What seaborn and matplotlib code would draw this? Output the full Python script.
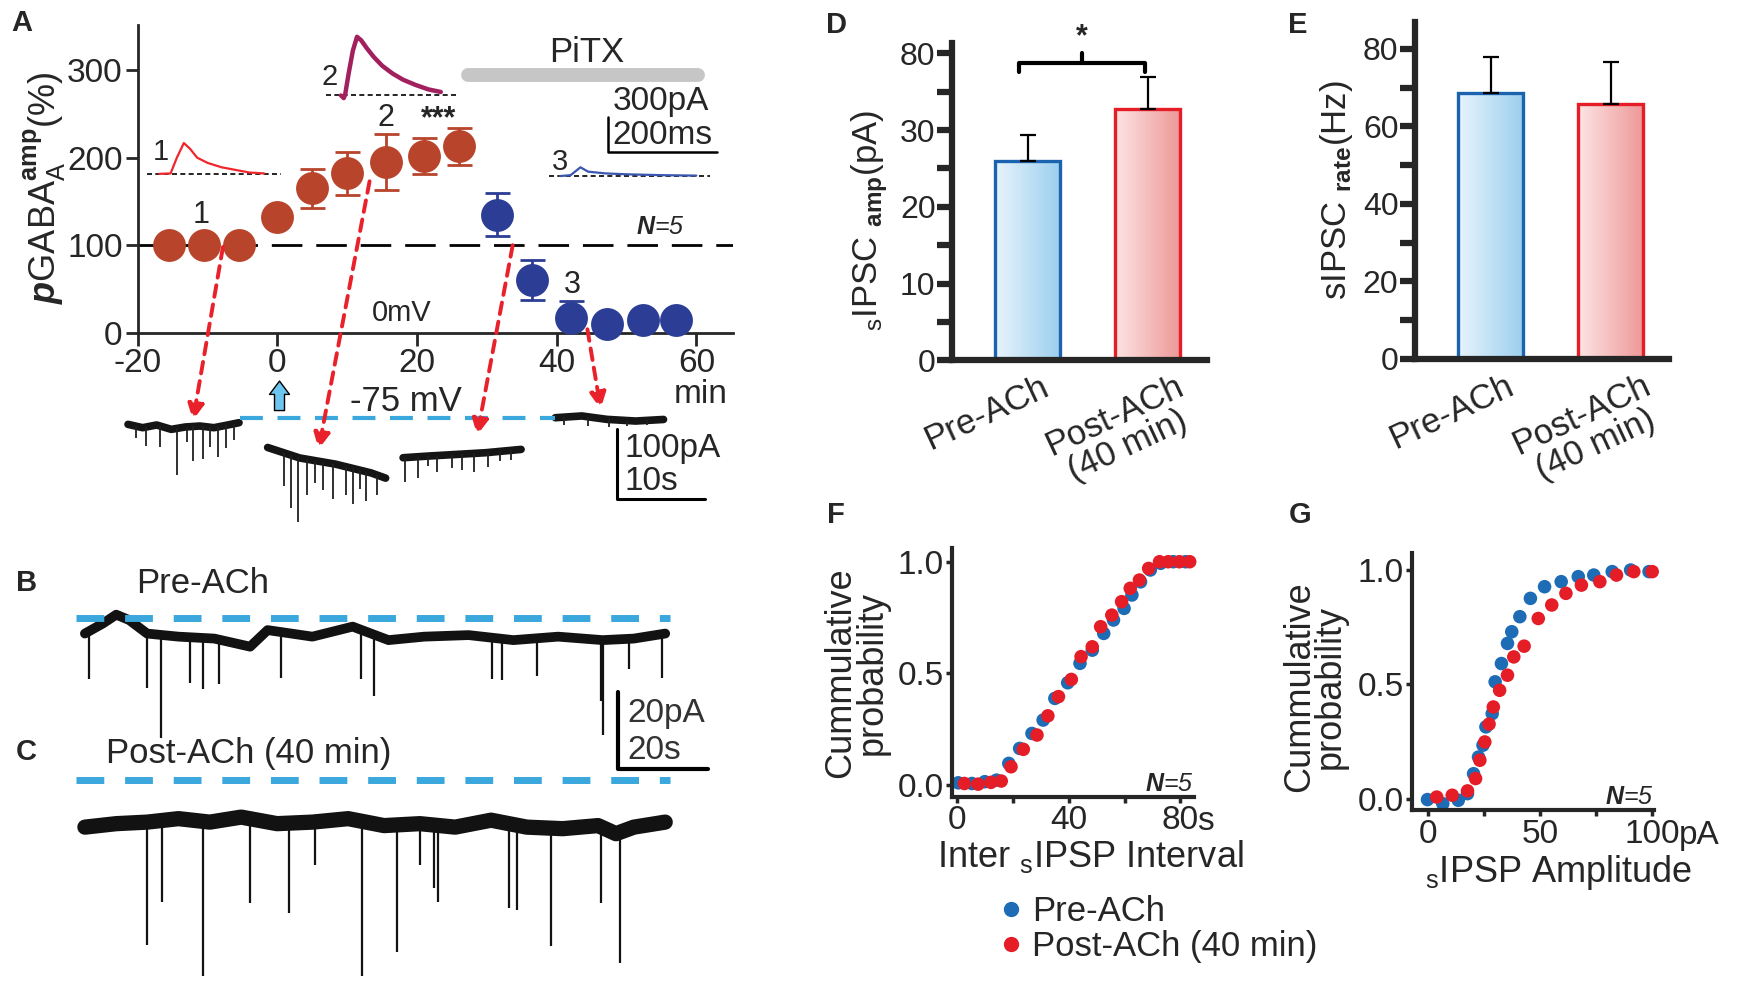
import numpy as np
import pandas as pd
import matplotlib
matplotlib.use('Agg')
import matplotlib.pyplot as plt
import matplotlib.transforms as mtransforms
from matplotlib.colors import LinearSegmentedColormap
from matplotlib.lines import Line2D
import seaborn as sns

# ---------------- data ----------------
# panel A: normalised pGABA_A amplitude (%) over time (min)
ach_time = [-15.5, -10.5, -5.5, 0, 5, 10, 15.5, 21, 26]
ach_amp = [100, 100, 100, 132, 165, 182, 195, 202, 213]
ach_err = [0, 0, 0, 0, 22, 25, 32, 21, 21]
pitx_time = [31.4, 36.5, 42.1, 47.2, 52.3, 57.1]
pitx_amp = [135, 60, 17, 10, 15, 15]
pitx_err = [25, 23, 19, 0, 0, 0]

# inset evoked currents in A (drawn in A's data units)
trace1_t = [-16.9, -15.3, -14.4, -13.4, -12.5, -11.5, -10, -8, -6, -4, -1.9]
trace1_v = [181.5, 182, 200, 216.7, 210, 200, 194, 189, 186, 183, 182]
trace2_t = [9.1, 9.5, 9.7, 10.2, 10.8, 11.4, 12.0, 12.8, 13.8, 15.0, 16.5, 18.0, 19.8, 21.6, 23.4]
trace2_v = [271, 268, 272, 296, 322, 338, 334, 325, 315, 305, 296, 289, 283, 278, 275]
trace3_t = [40.5, 42, 43.4, 44.5, 47, 50, 55, 60]
trace3_v = [179, 180, 189, 184, 182, 181, 180, 179.5]

# holding current sweeps at -75 mV under the axis of A
seg1_t = [-21.4, -19.3, -17.3, -15.2, -13.2, -11.1, -9.1, -7.1, -5.5]
seg1_v = [-104.6, -108.4, -105.3, -110.3, -107.6, -106.5, -108.4, -105.3, -102.7]
seg1_spk_t = [-20.2, -18.8, -16.8, -14.4, -13.0, -12.1, -10.6, -9.6, -8.55, -7.3, -6.2]
seg1_spk_v = [-120, -129, -131, -162, -125, -147, -144, -131, -142, -132, -122]
seg2_t = [-1.4, 3.2, 8.3, 13.4, 15.5]
seg2_v = [-131, -143, -150, -160, -166]
seg2_spk_t = [1.0, 2.0, 2.9, 4.3, 5.4, 6.5, 8.0, 9.8, 10.8, 11.8, 12.7, 14.2]
seg2_spk_v = [-175, -200, -216, -185, -172, -180, -190, -185, -195, -178, -192, -185]
seg3_t = [18.0, 21.6, 25.7, 29.8, 34.9]
seg3_v = [-142.7, -140.8, -138.9, -137, -133.2]
seg3_spk_t = [18.3, 20.1, 21.5, 22.9, 25.0, 26.4, 28.1, 30.1, 31.9, 33.5]
seg3_spk_v = [-170, -166, -152, -158.5, -155, -157, -158.5, -153, -147, -145]
seg4_t = [39.8, 43.6, 47.2, 51.3, 55.3]
seg4_v = [-97, -95, -98.9, -100.8, -99]
seg4_spk_t = [41, 44.5, 47.5, 50, 53]
seg4_spk_v = [-105, -106, -108, -106, -105]

# panels B / C: spontaneous IPSC traces (s, pA)
pre_t = [0.1, 4.1, 7.1, 10, 14, 21, 29, 37, 40.9, 50.9, 59.9, 67.9, 75.9, 85.8, 95.8, 105.8, 115.7, 122.7, 129.7]
pre_v = [1.1, 3.7, 6.0, 4.6, 1.1, 0.3, -0.2, -2.3, 2.0, 0.3, 2.9, -0.6, 0.3, 0.7, -0.6, 0.3, -0.6, -0.2, 1.1]
pre_spk_t = [1, 14, 17, 23.5, 26.4, 30, 44, 61.7, 64.7, 91, 93.3, 101, 115.3, 115.8, 121.7, 129]
pre_spk_v = [-10.7, -13, -26, -11.6, -13.3, -11.9, -10.4, -10.7, -15, -10.7, -11, -9.9, -16.5, -25.2, -8.1, -10.4]
post_t = [0.1, 7.1, 14, 21, 28, 35, 43, 50.9, 58.9, 66.9, 74.9, 82.8, 90.8, 98.8, 106.8, 114.7, 118.7, 122.7, 129.7]
post_v = [0.2, 1.1, 1.5, 2.4, 1.5, 2.8, 1.1, 1.5, 2.4, 0.6, 1.1, 0.2, 2.0, 0.2, -0.2, 0.6, -1.5, 0.2, 1.5]
post_spk_t = [14, 17.3, 26.4, 37, 45.7, 51.4, 62, 69.9, 75, 78, 79, 94.8, 96.5, 104.2, 115.3, 119.5]
post_spk_v = [-30.4, -19.1, -38.3, -19.4, -22, -9.6, -38.3, -32.2, -9.6, -15.7, -19.1, -20.9, -21.2, -30.7, -19.4, -35.1]

# panels D / E: bar charts
groups = ['Pre-ACh', 'Post-ACh\n(40 min)']
amp_mean = [26.0, 32.8]
amp_sem = [3.4, 4.1]
rate_mean = [68.5, 65.8]
rate_sem = [9.3, 10.9]

# panels F / G: cumulative distributions
ivl_pre_x = [0.4, 5.3, 9.9, 14.1, 18.5, 22.4, 26.8, 30.8, 35, 39.6, 44, 48.4, 52.5, 56, 59.8, 62.6, 65.7, 69.2, 72.9, 77.4, 81.8]
ivl_pre_y = [0.01, 0.007, 0.015, 0.022, 0.097, 0.164, 0.231, 0.291, 0.388, 0.458, 0.545, 0.604, 0.679, 0.739, 0.791, 0.851, 0.91, 0.963, 0.993, 1.0, 1.0]
ivl_post_x = [2.6, 7.5, 12.1, 15.8, 19.3, 23.7, 28.6, 32.5, 36.3, 40.9, 44.4, 48.4, 51.4, 55.4, 58.9, 62, 65.3, 68.6, 72.5, 75.6, 79.6, 83.3]
ivl_post_y = [0.007, 0.004, 0.012, 0.018, 0.082, 0.16, 0.224, 0.31, 0.396, 0.473, 0.575, 0.619, 0.709, 0.761, 0.821, 0.881, 0.918, 0.97, 1.0, 1.0, 1.0, 1.0]
amp_pre_x = [0, 6.8, 13.7, 17.8, 20.5, 22.7, 24.7, 26, 28.8, 30.1, 32.9, 35.6, 37.5, 41.1, 45.8, 52.1, 59.5, 67.1, 74, 82.2, 90.4, 98.6]
amp_pre_y = [-0.004, -0.022, -0.007, 0.022, 0.109, 0.182, 0.234, 0.314, 0.372, 0.511, 0.591, 0.679, 0.73, 0.796, 0.876, 0.927, 0.949, 0.971, 0.978, 0.993, 1.0, 0.993]
amp_post_x = [4.1, 11, 17.8, 21.4, 23.3, 25.5, 27.4, 29.3, 32.1, 35.6, 38.4, 43, 49.3, 55.3, 61.6, 68.5, 76.7, 84.1, 91.8, 100]
amp_post_y = [0.007, 0.015, 0.034, 0.088, 0.168, 0.248, 0.326, 0.401, 0.474, 0.54, 0.62, 0.667, 0.788, 0.847, 0.898, 0.934, 0.949, 0.978, 0.993, 0.993]

# ---------------- style ----------------
ORANGE = '#b8442b'
NAVY = '#2b3d94'
BLUE = '#1d6cb5'
RED = '#e41d27'
CYAN = '#3aa7dd'
RED_ARROW = '#e8212a'

sns.set_theme(style='ticks')
plt.rcParams['font.family'] = ['Liberation Sans', 'DejaVu Sans']
plt.rcParams['axes.unicode_minus'] = False
plt.rcParams['mathtext.fontset'] = 'custom'
plt.rcParams['mathtext.rm'] = 'Liberation Sans'
plt.rcParams['mathtext.it'] = 'Liberation Sans:italic'
plt.rcParams['mathtext.bf'] = 'Liberation Sans:bold'
try:
    plt.rcParams['mathtext.bfit'] = 'Liberation Sans:italic:bold'
except KeyError:
    pass

W, H = 1566.0, 887.4  # layout measured in reference pixels


def rect(l, t, r, b):
    return [l / W, 1 - b / H, (r - l) / W, (b - t) / H]


fig = plt.figure(figsize=(17.4, 9.86), dpi=100)

# ================= panel A =================
axA = fig.add_axes(rect(124, 22.5, 660, 299.5))
axA.axhline(100, color='black', lw=2, dashes=(11, 5), zorder=1)
axA.errorbar(ach_time, ach_amp, yerr=ach_err, fmt='none', ecolor=ORANGE,
             elinewidth=2, capsize=9, capthick=2, zorder=2)
axA.errorbar(pitx_time, pitx_amp, yerr=pitx_err, fmt='none', ecolor=NAVY,
             elinewidth=2, capsize=9, capthick=2, zorder=2)
sns.scatterplot(x=ach_time, y=ach_amp, ax=axA, color=ORANGE, s=560,
                linewidth=0, zorder=3, clip_on=False)
sns.scatterplot(x=pitx_time, y=pitx_amp, ax=axA, color=NAVY, s=560,
                linewidth=0, zorder=3, clip_on=False)
axA.set_xlim(-20, 65.3)
axA.set_ylim(0, 351.5)
axA.set_xticks([-20, 0, 20, 40, 60])
axA.set_yticks([0, 100, 200, 300])
axA.tick_params(labelsize=24, length=9, width=2, pad=2)
for s in ['left', 'bottom']:
    axA.spines[s].set_linewidth(2)
sns.despine(ax=axA)
axA.set_ylabel(r'$\mathbfit{p}$GABA$_{\mathrm{A}}^{\mathbf{amp}}$(%)', fontsize=26)
axA.yaxis.set_label_coords(-0.118, 0.47)

# insets
axA.plot([-18.75, 0.5], [181.5, 181.5], color='black', lw=1.2, ls=(0, (3, 2)), clip_on=False)
axA.plot(trace1_t, trace1_v, color='#f0262c', lw=1.6, clip_on=False)
axA.plot([6.9, 25.9], [271, 271], color='black', lw=1.2, ls=(0, (3, 2)), clip_on=False)
axA.plot(trace2_t, trace2_v, color='#a3205f', lw=3.2, clip_on=False)
axA.plot([38.9, 62], [178.8, 178.8], color='black', lw=1.2, ls=(0, (3, 2)), clip_on=False)
axA.plot(trace3_t, trace3_v, color='#3a56b0', lw=1.6, clip_on=False)
axA.text(-16.75, 206, '1', fontsize=21, ha='center', va='center')
axA.text(7.5, 292, '2', fontsize=21, ha='center', va='center')
axA.text(40.5, 195, '3', fontsize=21, ha='center', va='center')
axA.plot([27.3, 60.2], [294, 294], color='#c6c6c6', lw=10, solid_capstyle='round', clip_on=False)
axA.text(44.3, 320, 'PiTX', fontsize=25, ha='center', va='center')
axA.plot([47.4, 47.4, 62.9], [246.6, 206.2, 206.2], color='black', lw=1.8, clip_on=False)
axA.text(48.0, 263.6, '300pA', fontsize=24, ha='left', va='center')
axA.text(48.0, 225, '200ms', fontsize=24, ha='left', va='center')
axA.text(-10.9, 134, '1', fontsize=22, ha='center', va='center')
axA.text(15.6, 245, '2', fontsize=22, ha='center', va='center')
axA.text(23.1, 244, '***', fontsize=22, fontweight='bold', ha='center', va='center')
axA.text(42.2, 55, '3', fontsize=22, ha='center', va='center')
axA.text(58.3, 121, r'$\mathbfit{N}$=5', fontsize=18, fontstyle='italic', ha='right', va='center')
axA.text(17.8, 23, '0mV', fontsize=21, ha='center', va='center')
axA.text(18.4, -78, '-75 mV', fontsize=25, ha='center', va='center', clip_on=False)
axA.text(60.6, -71, 'min', fontsize=24, ha='center', va='center', clip_on=False)

# sweeps under the axis
for st, sv, kt, kv in [(seg1_t, seg1_v, seg1_spk_t, seg1_spk_v),
                       (seg2_t, seg2_v, seg2_spk_t, seg2_spk_v),
                       (seg3_t, seg3_v, seg3_spk_t, seg3_spk_v),
                       (seg4_t, seg4_v, seg4_spk_t, seg4_spk_v)]:
    axA.plot(st, sv, color='#151515', lw=5.5, clip_on=False)
    axA.vlines(kt, np.interp(kt, st, sv), kv, color='#202020', lw=1.3, clip_on=False)
axA.plot([-5.3, 39.7], [-97.4, -97.4], color=CYAN, lw=3, dashes=(5.5, 3.5), clip_on=False)
axA.plot([48.7, 48.7, 61.3], [-109.7, -190, -190], color='black', lw=2.2, clip_on=False)
axA.text(49.7, -132.6, '100pA', fontsize=24, ha='left', va='center', clip_on=False)
axA.text(49.7, -169.5, '10s', fontsize=24, ha='left', va='center', clip_on=False)

arrow_kw = dict(arrowstyle='-|>', color=RED_ARROW, lw=2.8, ls=(0, (3, 2)),
                mutation_scale=24, shrinkA=0, shrinkB=0)
for start, end in [((-7.8, 98), (-12.1, -100)), ((13.2, 173), (5.9, -133)),
                   ((33.7, 100), (28.6, -117)), ((44.4, 4), (46.3, -87))]:
    axA.annotate('', xy=end, xytext=start, arrowprops=arrow_kw, annotation_clip=False)
axA.annotate('', xy=(0.3, -52), xytext=(0.3, -92), annotation_clip=False,
             arrowprops=dict(arrowstyle='simple,head_width=0.9,head_length=0.6,tail_width=0.45',
                             fc='#6cc6f0', ec='black', lw=1, mutation_scale=16))

# ================= panels B / C =================
axBC = fig.add_axes(rect(0, 500, 640, 887.4))
axBC.set_axis_off()
axBC.set_xlim(-18.86, 139.95)
axBC.set_ylim(-90.3, 21.33)
post_offset = -49.3
axBC.plot(pre_t, pre_v, color='#121212', lw=7, solid_joinstyle='round')
axBC.vlines(pre_spk_t, np.interp(pre_spk_t, pre_t, pre_v), pre_spk_v, color='#121212', lw=1.6)
post_base = [v + post_offset for v in post_v]
axBC.plot(post_t, post_base, color='#121212', lw=11, solid_joinstyle='round')
axBC.vlines(post_spk_t, np.interp(post_spk_t, post_t, post_base),
            [v + post_offset for v in post_spk_v], color='#121212', lw=1.6)
axBC.plot([-1.9, 130.7], [5.2, 5.2], color=CYAN, lw=5, dashes=(4, 3))
axBC.plot([-1.9, 130.7], [12.4 + post_offset, 12.4 + post_offset], color=CYAN, lw=5, dashes=(4, 3))
axBC.plot([119.2, 119.2, 139.2], [-14, -34, -34], color='black', lw=3)
axBC.text(121.2, -19.6, '20pA', fontsize=24, ha='left', va='center', color='#333333')
axBC.text(121.2, -29.1, '20s', fontsize=24, ha='left', va='center', color='#333333')

fig.text(24 / W, 1 - 525 / H, 'B', fontsize=21, fontweight='bold', ha='center', va='center')
fig.text(24 / W, 1 - 676.5 / H, 'C', fontsize=21, fontweight='bold', ha='center', va='center')
fig.text(122.5 / W, 1 - 525 / H, 'Pre-ACh', fontsize=25, ha='left', va='center')
fig.text(95.6 / W, 1 - 678 / H, 'Post-ACh (40 min)', fontsize=25, ha='left', va='center')


# ================= panels D / E =================
def gradient_bars(ax, edge_colors, grad_colors):
    for patch, ec, (c0, c1) in zip(ax.patches, edge_colors, grad_colors):
        x0, y0 = patch.get_x(), patch.get_y()
        w, h = patch.get_width(), patch.get_height()
        cmap = LinearSegmentedColormap.from_list('g', [c0, c1])
        im = ax.imshow(np.linspace(0, 1, 256).reshape(1, -1), cmap=cmap, aspect='auto',
                       extent=[x0, x0 + w, y0, y0 + h], zorder=1.5)
        im.set_clip_path(patch)
        patch.set_facecolor('none')
        patch.set_edgecolor(ec)
        patch.set_linewidth(2.4)
        patch.set_zorder(2)


def bar_panel(r, means, sems, ylim, yticks, yticklabels, ylabel, lab_xy, lab_off):
    ax = fig.add_axes(r)
    sns.barplot(x=groups, y=means, hue=groups, palette=['#cfe8f7', '#fbd5d5'],
                width=0.54, ax=ax, legend=False, errorbar=None)
    gradient_bars(ax, ['#1b63ae', RED], [('#e8f4fc', '#9ccfee'), ('#fde5e5', '#ee9898')])
    ax.errorbar([0, 1], means, yerr=[[0, 0], sems], fmt='none', ecolor='black',
                elinewidth=1.6, capsize=6, capthick=1.6, zorder=3)
    ax.set_xlim(-0.63, 1.49)
    ax.set_ylim(*ylim)
    ax.set_yticks(yticks)
    ax.set_yticklabels(yticklabels)
    ax.set_xticks([0, 1])
    ax.set_xticklabels(['', ''])
    ax.set_xlabel('')
    sns.despine(ax=ax)
    for s in ['left', 'bottom']:
        ax.spines[s].set_linewidth(4.5)
    ax.tick_params(axis='y', labelsize=23, length=11, width=4.5, pad=1)
    ax.tick_params(axis='x', length=0)
    ax.set_ylabel(ylabel, fontsize=25)
    ax.yaxis.set_label_coords(*lab_xy)
    for i, (g, off) in enumerate(zip(groups, lab_off)):
        ax.text(i + off, -0.03, g, transform=ax.get_xaxis_transform(), fontsize=25,
                rotation=25, rotation_mode='anchor', ha='right', va='top',
                multialignment='center', linespacing=1.0)
    return ax


axD = bar_panel(rect(857, 39, 1086, 324.3), amp_mean, amp_sem, (0, 41.3),
                [0, 5, 10, 15, 20, 25, 30, 35, 40],
                ['0', '', '10', '', '20', '', '30', '', '80'],
                r'$_{\mathrm{s}}$IPSC $_{\mathbf{amp}}$(pA)', (-0.245, 0.44), [0.1, 0.22])
axD.plot([-0.07, -0.07, 0.977, 0.977], [37.6, 38.7, 38.7, 37.6], color='black', lw=3,
         clip_on=False, solid_joinstyle='round')
axD.plot([0.453, 0.453], [38.7, 40.0], color='black', lw=3, clip_on=False)
axD.text(0.453, 40.2, '*', fontsize=22, fontweight='bold', ha='center', va='bottom')

axE = bar_panel(rect(1273.6, 19.5, 1502.5, 323), rate_mean, rate_sem, (0, 87),
                [0, 10, 20, 30, 40, 50, 60, 70, 80],
                ['0', '', '20', '', '40', '', '60', '', '80'],
                r'sIPSC $_{\mathbf{rate}}$(Hz)', (-0.235, 0.5), [0.12, 0.26])

fig.text(753 / W, 1 - 22.5 / H, 'D', fontsize=21, fontweight='bold', ha='center', va='center')
fig.text(1168 / W, 1 - 22.5 / H, 'E', fontsize=21, fontweight='bold', ha='center', va='center')
fig.text(19.5 / W, 1 - 21 / H, 'A', fontsize=21, fontweight='bold', ha='center', va='center')


# ================= panels F / G =================
def cum_panel(r, x_pre, y_pre, x_post, y_post, xlim, ylim, xticks, xticklabels,
              xlabel, xlab_xy, unit, unit_dx, lab_xy):
    ax = fig.add_axes(r)
    df = pd.DataFrame({'x': list(x_pre) + list(x_post),
                       'y': list(y_pre) + list(y_post),
                       'cond': ['Pre-ACh'] * len(x_pre) + ['Post-ACh (40 min)'] * len(x_post)})
    sns.scatterplot(data=df, x='x', y='y', hue='cond', palette=[BLUE, RED], s=95,
                    linewidth=0, ax=ax, legend=False, clip_on=False)
    ax.set_xlim(*xlim)
    ax.set_ylim(*ylim)
    ax.set_xticks(xticks)
    ax.set_xticklabels(xticklabels)
    ax.set_yticks([0, 0.5, 1.0])
    ax.set_yticklabels(['0.0', '0.5', '1.0'])
    sns.despine(ax=ax)
    for s in ['left', 'bottom']:
        ax.spines[s].set_linewidth(3)
    ax.tick_params(labelsize=24, length=4, width=2.5, pad=2)
    ax.set_xlabel('')
    ax.set_ylabel('Cummulative\nprobability', fontsize=26, linespacing=0.85)
    ax.yaxis.set_label_coords(*lab_xy)
    ax.text(*xlab_xy, xlabel, transform=ax.transAxes, fontsize=26, ha='center', va='center')
    tr = mtransforms.offset_copy(ax.get_xaxis_transform(), fig=fig, x=unit_dx, y=-7, units='points')
    ax.text(xticks[-1], 0, unit, transform=tr, fontsize=24, ha='left', va='top')
    ax.text(0.995, 0.05, r'$\mathbfit{N}$=5', transform=ax.transAxes, fontstyle='italic',
            fontsize=18, ha='right', va='center')
    return ax


axF = cum_panel(rect(857, 493.5, 1075, 717), ivl_pre_x, ivl_pre_y, ivl_post_x, ivl_post_y,
                (-1.76, 85), (-0.052, 1.06), [0, 20, 40, 60, 80], ['0', '', '40', '', '80'],
                r'Inter $_{\mathrm{s}}$IPSP Interval', (0.57, -0.24), 's', 12, (-0.26, 0.5))
axG = cum_panel(rect(1271, 498, 1489, 729.3), amp_pre_x, amp_pre_y, amp_post_x, amp_post_y,
                (-6.8, 101), (-0.051, 1.073), [0, 25, 50, 75, 100], ['0', '', '50', '', '100'],
                r'$_{\mathrm{s}}$IPSP Amplitude', (0.605, -0.24), 'pA', 19, (-0.265, 0.48))

fig.text(752 / W, 1 - 463.5 / H, 'F', fontsize=21, fontweight='bold', ha='center', va='center')
fig.text(1170 / W, 1 - 463.5 / H, 'G', fontsize=21, fontweight='bold', ha='center', va='center')

handles = [Line2D([], [], marker='o', ls='none', color=BLUE, markersize=10),
           Line2D([], [], marker='o', ls='none', color=RED, markersize=10)]
fig.legend(handles, ['Pre-ACh', 'Post-ACh (40 min)'], loc='upper left',
           bbox_to_anchor=(882 / W, 1 - 793 / H), frameon=False, fontsize=25,
           handletextpad=0.1, labelspacing=0.05, borderaxespad=0, handlelength=1.0)

fig.savefig('out.png', dpi=100)
